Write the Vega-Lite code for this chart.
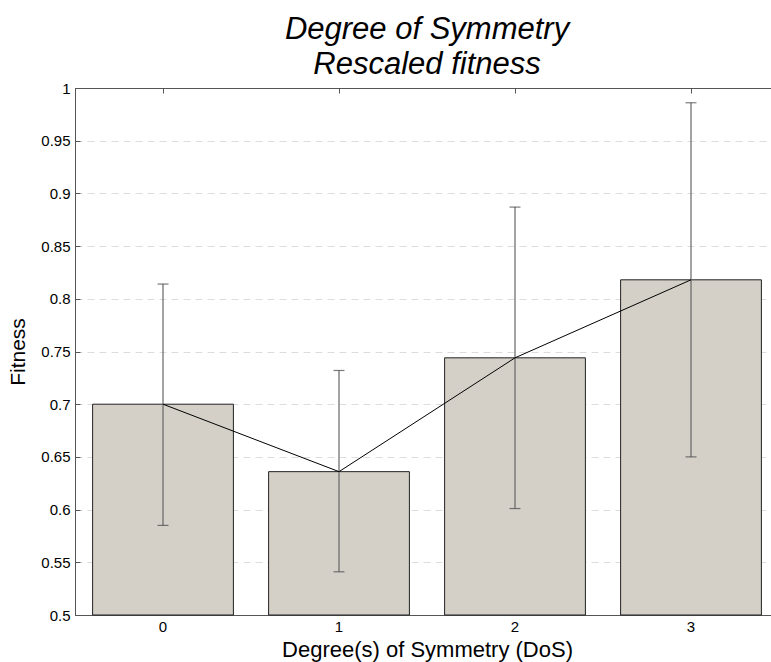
{
  "$schema": "https://vega.github.io/schema/vega-lite/v6.json",
  "autosize": "none",
  "width": 704,
  "height": 527,
  "padding": {"left": 75, "top": 88, "right": 0, "bottom": 47},
  "background": "white",
  "view": {"stroke": "#555555", "strokeWidth": 1},
  "title": {
    "text": ["Degree of Symmetry", "Rescaled fitness"],
    "font": "Liberation Sans",
    "fontSize": 31,
    "fontStyle": "italic",
    "fontWeight": "normal",
    "color": "black",
    "lineHeight": 35,
    "anchor": "middle",
    "offset": 0
  },
  "data": {
    "values": [
      {"dos": "0", "fitness": 0.700, "lo": 0.585, "hi": 0.814},
      {"dos": "1", "fitness": 0.636, "lo": 0.541, "hi": 0.732},
      {"dos": "2", "fitness": 0.744, "lo": 0.601, "hi": 0.887},
      {"dos": "3", "fitness": 0.818, "lo": 0.650, "hi": 0.986}
    ]
  },
  "resolve": {"axis": {"x": "independent"}},
  "layer": [
    {
      "mark": {"type": "bar", "fill": "#d4d0c8", "stroke": "#222222", "strokeWidth": 1},
      "encoding": {
        "x": {
          "field": "dos",
          "type": "ordinal",
          "scale": {"paddingInner": 0.2, "paddingOuter": 0.1},
          "axis": {
            "title": "Degree(s) of Symmetry (DoS)",
            "titleFont": "Liberation Sans",
            "titleFontSize": 22,
            "titleFontWeight": "normal",
            "titleColor": "black",
            "titlePadding": 5,
            "labelFont": "Liberation Sans",
            "labelFontSize": 15,
            "labelColor": "black",
            "labelAngle": 0,
            "labelPadding": 9,
            "tickSize": -5,
            "tickColor": "#555555",
            "domain": true,
            "domainColor": "#555555",
            "grid": false
          }
        },
        "y": {
          "field": "fitness",
          "type": "quantitative",
          "scale": {"domain": [0.5, 1], "zero": false, "nice": false},
          "axis": {
            "title": "Fitness",
            "titleFont": "Liberation Sans",
            "titleFontSize": 21,
            "titleFontWeight": "normal",
            "titleColor": "black",
            "titleX": -47,
            "labelFont": "Liberation Sans",
            "labelFontSize": 15,
            "labelColor": "black",
            "labelPadding": 10,
            "values": [0.5, 0.55, 0.6, 0.65, 0.7, 0.75, 0.8, 0.85, 0.9, 0.95, 1],
            "format": "~g",
            "tickSize": -5,
            "tickColor": "#555555",
            "domain": true,
            "domainColor": "#555555",
            "grid": true,
            "gridColor": "#dddddd",
            "gridDash": [7, 5],
            "gridWidth": 1
          }
        },
        "y2": {"datum": 0.5}
      }
    },
    {
      "mark": {"type": "rule", "color": "#666666", "strokeWidth": 1.2},
      "encoding": {
        "x": {"field": "dos", "type": "ordinal", "axis": null},
        "y": {"field": "lo", "type": "quantitative"},
        "y2": {"field": "hi"}
      }
    },
    {
      "mark": {"type": "tick", "color": "#444444", "size": 11, "thickness": 1.2, "orient": "horizontal"},
      "encoding": {
        "x": {"field": "dos", "type": "ordinal", "axis": null},
        "y": {"field": "lo", "type": "quantitative"}
      }
    },
    {
      "mark": {"type": "tick", "color": "#444444", "size": 11, "thickness": 1.2, "orient": "horizontal"},
      "encoding": {
        "x": {"field": "dos", "type": "ordinal", "axis": null},
        "y": {"field": "hi", "type": "quantitative"}
      }
    },
    {
      "mark": {"type": "line", "color": "black", "strokeWidth": 1},
      "encoding": {
        "x": {
          "field": "dos",
          "type": "ordinal",
          "axis": {
            "orient": "top",
            "title": null,
            "labels": false,
            "tickSize": -5,
            "tickColor": "#555555",
            "domain": true,
            "domainColor": "#555555",
            "grid": false
          }
        },
        "y": {"field": "fitness", "type": "quantitative"}
      }
    }
  ]
}
